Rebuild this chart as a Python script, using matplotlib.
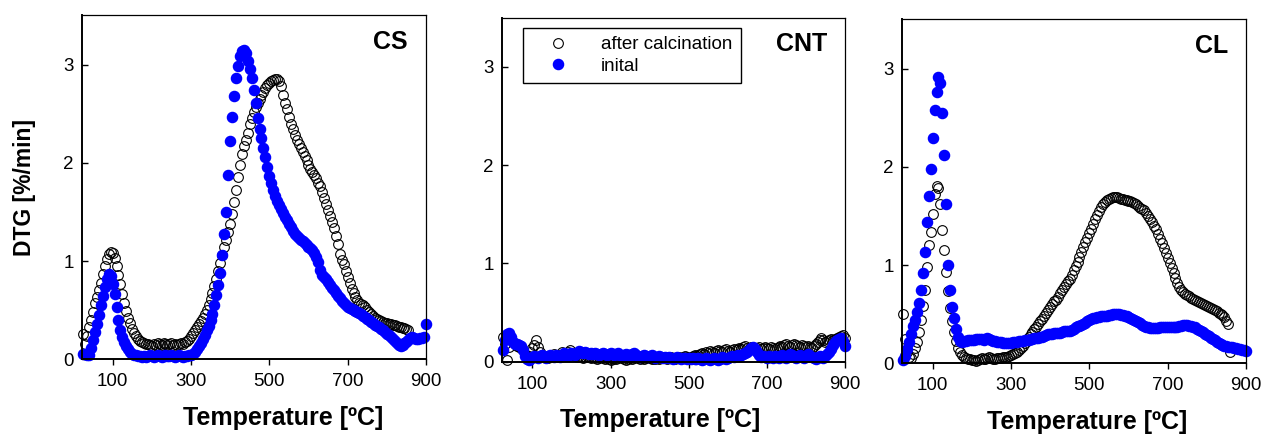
import numpy as np
import matplotlib
matplotlib.use("Agg")
from matplotlib import pyplot as plt

plt.rcParams['font.family'] = ['Liberation Sans', 'DejaVu Sans']

# DTG readings [%/min], one value every 5 degC starting at 25 degC
t_start = 25
t_step = 5

cs_calcined = [
    0.26, 0.16, 0.24, 0.33, 0.40, 0.48, 0.57, 0.64, 0.71, 0.78,
    0.87, 0.95, 1.02, 1.07, 1.09, 1.08, 1.03, 0.95, 0.86, 0.77,
    0.67, 0.57, 0.49, 0.42, 0.37, 0.31, 0.27, 0.24, 0.21, 0.19,
    0.18, 0.17, 0.16, 0.16, 0.15, 0.14, 0.16, 0.15, 0.17, 0.16,
    0.15, 0.17, 0.16, 0.15, 0.16, 0.17, 0.15, 0.16, 0.15, 0.16,
    0.17, 0.16, 0.18, 0.19, 0.21, 0.24, 0.27, 0.30, 0.33, 0.36,
    0.39, 0.42, 0.46, 0.50, 0.55, 0.61, 0.68, 0.75, 0.82, 0.90,
    0.98, 1.06, 1.14, 1.22, 1.30, 1.38, 1.48, 1.60, 1.72, 1.86,
    1.98, 2.09, 2.17, 2.23, 2.30, 2.40, 2.46, 2.52, 2.57, 2.61,
    2.65, 2.69, 2.72, 2.76, 2.79, 2.81, 2.83, 2.84, 2.85, 2.85,
    2.83, 2.78, 2.69, 2.61, 2.55, 2.47, 2.40, 2.34, 2.28, 2.23,
    2.19, 2.15, 2.11, 2.07, 2.03, 1.98, 1.94, 1.91, 1.88, 1.85,
    1.80, 1.76, 1.70, 1.64, 1.58, 1.52, 1.46, 1.40, 1.34, 1.26,
    1.17, 1.07, 1.01, 0.97, 0.90, 0.84, 0.78, 0.72, 0.68, 0.64,
    0.60, 0.57, 0.56, 0.55, 0.53, 0.50, 0.48, 0.46, 0.44, 0.42,
    0.41, 0.40, 0.39, 0.38, 0.37, 0.37, 0.36, 0.36, 0.35, 0.35,
    0.34, 0.33, 0.33, 0.32, 0.32, 0.31, 0.30,
]
cs_initial = [
    0.06, 0.06, 0.05, 0.05, 0.12, 0.20, 0.28, 0.36, 0.45, 0.55,
    0.65, 0.74, 0.82, 0.87, 0.85, 0.77, 0.67, 0.53, 0.40, 0.30,
    0.23, 0.18, 0.14, 0.11, 0.08, 0.06, 0.05, 0.04, 0.03, 0.03,
    0.02, 0.03, 0.02, 0.03, 0.04, 0.03, 0.02, 0.03, 0.04, 0.03,
    0.02, 0.03, 0.04, 0.03, 0.03, 0.04, 0.03, 0.02, 0.03, 0.04,
    0.03, 0.02, 0.03, 0.03, 0.04, 0.05, 0.06, 0.08, 0.11, 0.14,
    0.17, 0.21, 0.25, 0.30, 0.34, 0.40, 0.46, 0.55, 0.66, 0.76,
    0.88, 1.06, 1.28, 1.50, 1.88, 2.22, 2.47, 2.68, 2.86, 2.99,
    3.09, 3.14, 3.15, 3.12, 3.04, 2.95, 2.86, 2.74, 2.61, 2.46,
    2.34, 2.25, 2.15, 2.06, 1.96, 1.87, 1.79, 1.72, 1.66, 1.61,
    1.57, 1.53, 1.49, 1.45, 1.42, 1.38, 1.35, 1.31, 1.28, 1.26,
    1.24, 1.22, 1.20, 1.18, 1.16, 1.14, 1.13, 1.11, 1.08, 1.04,
    0.99, 0.91, 0.86, 0.84, 0.82, 0.79, 0.76, 0.73, 0.71, 0.68,
    0.65, 0.62, 0.59, 0.57, 0.55, 0.53, 0.52, 0.51, 0.50, 0.49,
    0.48, 0.47, 0.46, 0.44, 0.43, 0.41, 0.40, 0.38, 0.37, 0.35,
    0.34, 0.33, 0.31, 0.30, 0.28, 0.26, 0.25, 0.23, 0.21, 0.19,
    0.17, 0.15, 0.14, 0.15, 0.17, 0.18, 0.20, 0.22, 0.23, 0.22,
    0.21, 0.21, 0.22, 0.22, 0.23, 0.36,
]

cnt_calcined = [
    0.25, 0.18, 0.02, 0.15, 0.22, 0.20, 0.18, 0.16, 0.15, 0.14,
    0.12, 0.08, 0.05, 0.06, 0.10, 0.14, 0.17, 0.22, 0.15, 0.10,
    0.07, 0.05, 0.06, 0.04, 0.05, 0.06, 0.08, 0.06, 0.05, 0.07,
    0.10, 0.08, 0.06, 0.10, 0.12, 0.09, 0.07, 0.06, 0.05, 0.06,
    0.05, 0.04, 0.05, 0.06, 0.05, 0.04, 0.05, 0.04, 0.03, 0.04,
    0.05, 0.04, 0.03, 0.04, 0.03, 0.02, 0.03, 0.04, 0.03, 0.04,
    0.05, 0.04, 0.03, 0.02, 0.03, 0.04, 0.03, 0.04, 0.05, 0.04,
    0.03, 0.04, 0.03, 0.04, 0.05, 0.04, 0.03, 0.04, 0.03, 0.04,
    0.03, 0.04, 0.05, 0.04, 0.03, 0.04, 0.05, 0.04, 0.03, 0.04,
    0.05, 0.04, 0.05, 0.06, 0.05, 0.04, 0.05, 0.06, 0.07, 0.06,
    0.07, 0.08, 0.09, 0.08, 0.10, 0.09, 0.11, 0.10, 0.09, 0.11,
    0.12, 0.11, 0.10, 0.12, 0.13, 0.11, 0.10, 0.12, 0.13, 0.12,
    0.13, 0.14, 0.13, 0.15, 0.16, 0.14, 0.13, 0.15, 0.14, 0.13,
    0.14, 0.15, 0.13, 0.14, 0.15, 0.14, 0.13, 0.15, 0.14, 0.13,
    0.14, 0.15, 0.16, 0.15, 0.17, 0.18, 0.16, 0.15, 0.17, 0.18,
    0.17, 0.16, 0.15, 0.17, 0.16, 0.15, 0.16, 0.15, 0.14, 0.16,
    0.18, 0.20, 0.22, 0.24, 0.22, 0.20, 0.21, 0.22, 0.23, 0.22,
    0.23, 0.24, 0.25, 0.26, 0.27, 0.24,
]
cnt_initial = [
    0.12, 0.22, 0.28, 0.29, 0.25, 0.20, 0.18, 0.18, 0.17, 0.16,
    0.12, 0.06, 0.03, 0.02, 0.03, 0.05, 0.06, 0.05, 0.04, 0.06,
    0.07, 0.05, 0.04, 0.06, 0.07, 0.06, 0.05, 0.07, 0.06, 0.05,
    0.07, 0.09, 0.07, 0.06, 0.08, 0.09, 0.08, 0.07, 0.09, 0.11,
    0.10, 0.09, 0.10, 0.09, 0.08, 0.09, 0.08, 0.09, 0.08, 0.07,
    0.08, 0.09, 0.08, 0.07, 0.08, 0.09, 0.08, 0.07, 0.08, 0.09,
    0.07, 0.06, 0.07, 0.08, 0.07, 0.06, 0.08, 0.09, 0.07, 0.06,
    0.05, 0.06, 0.07, 0.06, 0.05, 0.06, 0.07, 0.05, 0.04, 0.05,
    0.06, 0.05, 0.04, 0.05, 0.04, 0.05, 0.04, 0.03, 0.04, 0.05,
    0.04, 0.03, 0.04, 0.04, 0.03, 0.04, 0.03, 0.04, 0.03, 0.03,
    0.04, 0.03, 0.02, 0.03, 0.04, 0.03, 0.02, 0.03, 0.04, 0.03,
    0.02, 0.03, 0.05, 0.04, 0.03, 0.04, 0.05, 0.06, 0.05, 0.06,
    0.07, 0.06, 0.07, 0.08, 0.09, 0.10, 0.12, 0.14, 0.15, 0.13,
    0.10, 0.07, 0.05, 0.06, 0.05, 0.04, 0.06, 0.05, 0.04, 0.06,
    0.05, 0.04, 0.06, 0.07, 0.05, 0.04, 0.06, 0.08, 0.07, 0.05,
    0.04, 0.06, 0.07, 0.05, 0.04, 0.06, 0.08, 0.06, 0.05, 0.04,
    0.03, 0.05, 0.06, 0.05, 0.04, 0.06, 0.08, 0.10, 0.13, 0.17,
    0.20, 0.22, 0.23, 0.24, 0.21, 0.16,
]

cl_calcined = [
    0.50, 0.25, 0.12, 0.07, 0.05, 0.10, 0.16, 0.22, 0.32, 0.44,
    0.58, 0.75, 0.98, 1.20, 1.34, 1.52, 1.72, 1.80, 1.78, 1.62,
    1.36, 1.15, 0.93, 0.74, 0.56, 0.43, 0.32, 0.23, 0.16, 0.12,
    0.09, 0.07, 0.05, 0.04, 0.04, 0.03, 0.03, 0.02, 0.03, 0.04,
    0.05, 0.04, 0.04, 0.05, 0.06, 0.05, 0.04, 0.04, 0.05, 0.05,
    0.05, 0.06, 0.06, 0.07, 0.08, 0.09, 0.10, 0.11, 0.12, 0.14,
    0.16, 0.18, 0.21, 0.24, 0.27, 0.30, 0.32, 0.35, 0.37, 0.40,
    0.43, 0.45, 0.48, 0.51, 0.54, 0.57, 0.60, 0.63, 0.65, 0.68,
    0.72, 0.75, 0.78, 0.81, 0.84, 0.86, 0.90, 0.95, 0.99, 1.03,
    1.08, 1.13, 1.18, 1.23, 1.28, 1.33, 1.37, 1.42, 1.47, 1.51,
    1.55, 1.59, 1.62, 1.64, 1.66, 1.67, 1.68, 1.69, 1.69, 1.69,
    1.68, 1.67, 1.67, 1.66, 1.66, 1.65, 1.65, 1.64, 1.63, 1.62,
    1.60, 1.58, 1.57, 1.56, 1.53, 1.50, 1.47, 1.44, 1.40, 1.37,
    1.32, 1.27, 1.22, 1.17, 1.12, 1.07, 1.02, 0.97, 0.92, 0.87,
    0.82, 0.78, 0.75, 0.73, 0.71, 0.70, 0.69, 0.67, 0.66, 0.64,
    0.63, 0.62, 0.61, 0.60, 0.59, 0.58, 0.57, 0.56, 0.55, 0.54,
    0.53, 0.51, 0.50, 0.49, 0.47, 0.43, 0.40, 0.12,
]
cl_initial = [
    0.03, 0.08, 0.15, 0.22, 0.30, 0.38, 0.44, 0.52, 0.61, 0.75,
    0.92, 1.13, 1.44, 1.70, 1.98, 2.29, 2.58, 2.76, 2.91, 2.85,
    2.55, 2.12, 1.62, 1.00, 0.75, 0.57, 0.46, 0.35, 0.27, 0.23,
    0.22, 0.23, 0.23, 0.24, 0.24, 0.24, 0.24, 0.25, 0.25, 0.25,
    0.25, 0.24, 0.25, 0.26, 0.25, 0.24, 0.23, 0.23, 0.22, 0.22,
    0.22, 0.21, 0.21, 0.21, 0.21, 0.21, 0.22, 0.22, 0.22, 0.23,
    0.23, 0.23, 0.24, 0.24, 0.24, 0.25, 0.25, 0.26, 0.26, 0.26,
    0.27, 0.27, 0.28, 0.29, 0.30, 0.30, 0.30, 0.31, 0.31, 0.31,
    0.31, 0.32, 0.33, 0.33, 0.33, 0.33, 0.34, 0.35, 0.37, 0.38,
    0.38, 0.39, 0.40, 0.41, 0.43, 0.44, 0.45, 0.46, 0.46, 0.47,
    0.47, 0.48, 0.48, 0.48, 0.48, 0.49, 0.49, 0.50, 0.50, 0.50,
    0.50, 0.49, 0.49, 0.48, 0.48, 0.47, 0.46, 0.45, 0.44, 0.43,
    0.42, 0.41, 0.39, 0.38, 0.37, 0.37, 0.36, 0.36, 0.36, 0.36,
    0.36, 0.37, 0.37, 0.37, 0.37, 0.37, 0.37, 0.37, 0.37, 0.37,
    0.37, 0.38, 0.38, 0.39, 0.39, 0.39, 0.38, 0.38, 0.37, 0.37,
    0.35, 0.34, 0.33, 0.32, 0.30, 0.29, 0.28, 0.26, 0.25, 0.24,
    0.22, 0.21, 0.20, 0.19, 0.18, 0.18, 0.17, 0.17, 0.17, 0.16,
    0.16, 0.15, 0.15, 0.14, 0.14, 0.13,
]

names = ["CS", "CNT", "CL"]
series_labels = ["after calcination", "inital"]
x_ticks = [100, 300, 500, 700, 900]
y_ticks = [0, 1, 2, 3]


def temps(values):
    return t_start + t_step * np.arange(len(values))


# axes rectangles in figure fraction and x position of each xlabel
layout = [
    ([0.0648, 0.185, 0.2717, 0.780], 0.584),
    ([0.3965, 0.180, 0.2709, 0.780], 0.460),
    ([0.7125, 0.176, 0.2717, 0.780], 0.537),
]

fig = plt.figure(figsize=(12.66, 4.41), dpi=100)

data = [(cs_calcined, cs_initial), (cnt_calcined, cnt_initial), (cl_calcined, cl_initial)]
for i, (name, (calc, init), (rect, xlab)) in enumerate(zip(names, data, layout)):
    ax = fig.add_axes(rect)
    ax.plot(temps(calc), calc, 'o', mfc='none', mec='black', mew=0.8, ms=7.0,
            clip_on=False, label=series_labels[0])
    ax.plot(temps(init), init, 'o', color='blue', mec='blue', ms=7.3,
            clip_on=False, label=series_labels[1])
    ax.set_xlim(22, 900)
    ax.set_ylim(0, 3.5)
    ax.set_xticks(x_ticks)
    ax.set_yticks(y_ticks)
    ax.tick_params(axis='x', direction='out', length=4, width=1, labelsize=13.5, pad=6)
    ax.tick_params(axis='y', direction='in', length=4, width=1, labelsize=13.5, pad=6)
    for side in ['left', 'bottom']:
        ax.spines[side].set_linewidth(1.4)
    for side in ['top', 'right']:
        ax.spines[side].set_linewidth(0.9)
    ax.text(0.948, 0.924, name, transform=ax.transAxes, ha='right', va='center',
            fontsize=18, fontweight='bold')
    ax.set_xlabel('Temperature [ºC]', fontsize=18, fontweight='bold', va='center')
    ax.xaxis.set_label_coords(xlab, -0.17)
    if i == 0:
        ax.set_ylabel('DTG [%/min]', fontsize=16.5, fontweight='bold', va='center', ha='center')
        ax.yaxis.set_label_coords(-0.166, 0.5)
    if i == 1:
        leg = ax.legend(loc='upper left', bbox_to_anchor=(0.061, 0.971), fontsize=13.5,
                        fancybox=False, edgecolor='black', framealpha=1, borderpad=0.45,
                        handlelength=2.8, handletextpad=0.9, labelspacing=0.25,
                        borderaxespad=0, numpoints=1)
        leg.get_frame().set_linewidth(1.0)

fig.savefig('out.png', dpi=100)
